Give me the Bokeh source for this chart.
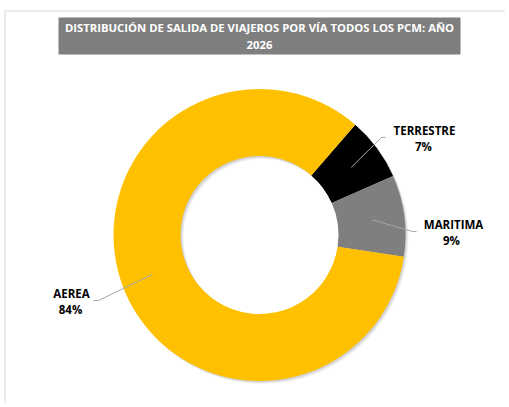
import math
from bokeh.plotting import figure
from bokeh.models import Range1d
from bokeh.core.properties import value
from bokeh.embed import file_html
from bokeh.resources import INLINE

# ---- data ----
categories = ["TERRESTRE", "MARITIMA", "AEREA"]
shares = [7, 9, 84]
colors = ["#000000", "#7f7f7f", "#ffc000"]
title_lines = ["DISTRIBUCIÓN DE SALIDA DE VIAJEROS POR VÍA TODOS LOS PCM: AÑO", "2026"]

# ---- layout (page pixel coordinates, y measured downward) ----
W, H = 505, 403
PAGE_H = 407
def Y(py):
    return PAGE_H - py

cx, cy = 259, 234.5
r_out, r_in = 146, 79
first_angle = 41.0  # degrees clockwise from 12 o'clock
FONT = "Open Sans"

# label anchors: (name_x, name_y, pct_x, pct_y), leader elbow & end
label_pos = {
    "TERRESTRE": (424, 130, 423, 146),
    "MARITIMA": (453, 224, 451, 240),
    "AEREA": (71, 293, 70, 309),
}
leader_pts = {
    "TERRESTRE": [(381, 137), (385, 137)],
    "MARITIMA": [(412, 231), (416, 231)],
    "AEREA": [(98, 300), (93, 300)],
}

p = figure(width=W, height=H, output_backend="svg", toolbar_location=None,
           x_range=Range1d(0, W), y_range=Range1d(PAGE_H - H, PAGE_H),
           min_border=0, outline_line_color=None)
p.axis.visible = False
p.grid.visible = False
p.background_fill_color = "white"
p.border_fill_color = "white"

# chart frame (top and left edges visible)
p.line([4.5, W], [Y(10.5), Y(10.5)], line_color="#d9d9d9", line_width=1)
p.line([4.5, 4.5], [Y(10.5), Y(H)], line_color="#d9d9d9", line_width=1)

# title box
p.quad(left=58, right=460, top=Y(17), bottom=Y(54), fill_color="#7f7f7f", line_color=None)
p.text(x=[259, 259], y=[Y(27), Y(44)], text=title_lines, text_color="white",
       text_font=value(FONT), text_font_style="bold", text_font_size="11.3px",
       text_align="center", text_baseline="middle")

# slices
total = float(sum(shares))
starts, ends, mids = [], [], []
acc = first_angle
for v in shares:
    a0 = acc
    a1 = acc + 360.0 * v / total
    starts.append(math.radians(90 - a0))
    ends.append(math.radians(90 - a1))
    mids.append((a0 + a1) / 2)
    acc = a1

# soft shadow
for off, alpha in [(3, 0.05), (2, 0.07), (1, 0.08)]:
    p.annulus(x=cx + off, y=Y(cy + off), inner_radius=r_in, outer_radius=r_out,
              fill_color="black", fill_alpha=alpha, line_color=None)

p.annular_wedge(x=[cx] * 3, y=[Y(cy)] * 3, inner_radius=r_in, outer_radius=r_out,
                start_angle=starts, end_angle=ends, direction="clock",
                fill_color=colors, line_color=None)

# leader lines and labels
for cat, v, m in zip(categories, shares, mids):
    rr = 114
    sx = cx + rr * math.sin(math.radians(m))
    sy = cy - rr * math.cos(math.radians(m))
    xs = [sx] + [pt[0] for pt in leader_pts[cat]]
    ys = [Y(sy)] + [Y(pt[1]) for pt in leader_pts[cat]]
    p.line(xs, ys, line_color="#a6a6a6", line_width=1)
    nx, ny, px_, py_ = label_pos[cat]
    p.text(x=[nx, px_], y=[Y(ny), Y(py_)], text=[cat, f"{v}%"], text_color="black",
           text_font=value(FONT), text_font_style="bold", text_font_size="11.5px",
           text_align="center", text_baseline="middle")

open("out.html", "w").write(file_html(p, INLINE))
